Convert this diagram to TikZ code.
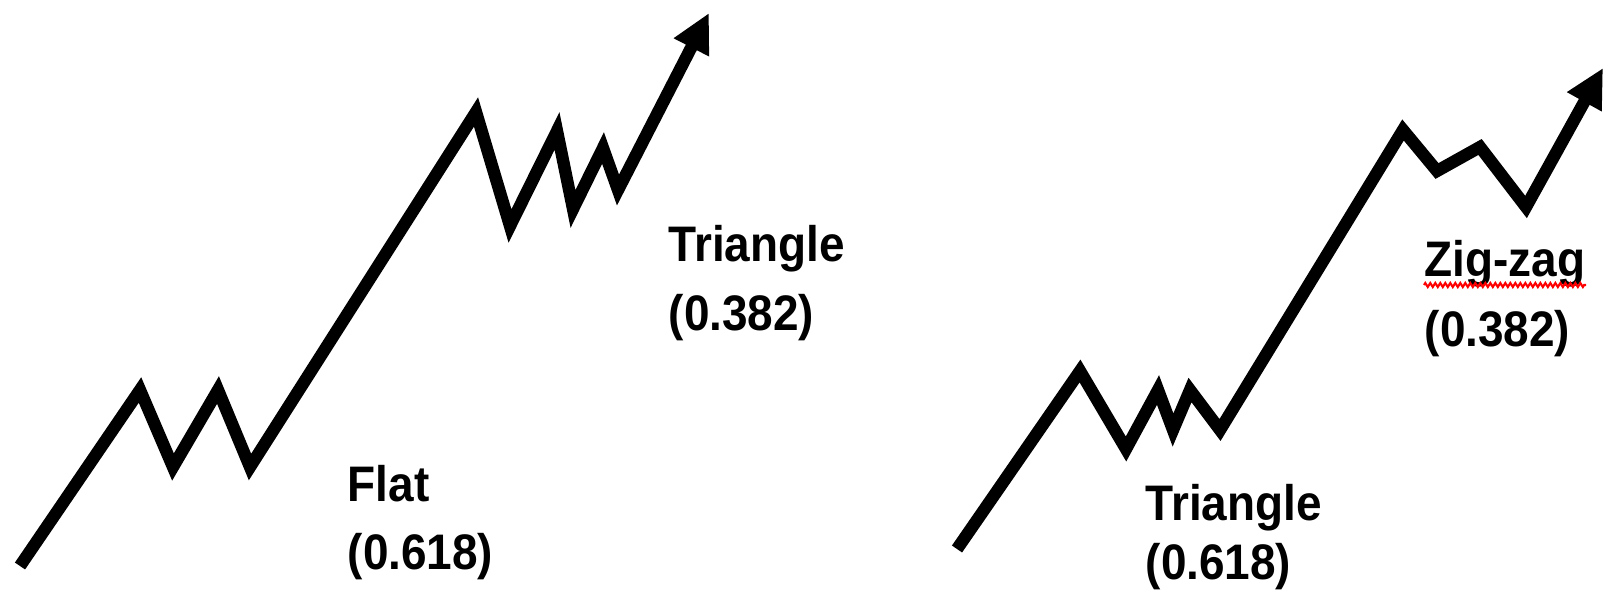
\documentclass[tikz,border=0pt]{standalone}
\usepackage{fontspec}
\setmainfont{Liberation Sans}
\newfontfamily\labelfont[FakeStretch=0.92]{Liberation Sans}
\usetikzlibrary{arrows.meta, decorations.pathmorphing}

\begin{document}
\begin{tikzpicture}[
  x=0.01cm, y=-0.01cm,
  >={Triangle[length=11pt, width=10.5pt]},
  wave/.style={->, draw=black, line width=3.5pt},
  fiblabel/.style={anchor=base west, inner sep=0pt,
                   font=\labelfont\bfseries\fontsize{14.2pt}{19.6pt}\selectfont},
  spell/.style={draw=red, line width=0.6pt, decorate,
                decoration={zigzag, segment length=0.05cm, amplitude=0.02cm}}
]
  \useasboundingbox (0,0) rectangle (1610,592);

  % flat then triangle
  \draw[wave] (20,566) -- (140,390) -- (173,467) -- (218,390) -- (250,467)
    -- (476,112) -- (510,226) -- (557,131) -- (573,209) -- (603,148)
    -- (618,190) -- (709,13);

  % triangle then zig-zag
  \draw[wave] (957,549) -- (1080,371) -- (1126,449) -- (1158,390) -- (1173,430)
    -- (1190,390) -- (1220,430) -- (1403,130) -- (1437,171) -- (1480,147)
    -- (1526,207) -- (1603,68);

  \node[fiblabel] (flat)     at (347,502) {Flat};
  \node[fiblabel] (flatval)  at (347,570) {(0.618)};
  \node[fiblabel] (triA)     at (668,262) {Triangle};
  \node[fiblabel] (triAval)  at (668,331) {(0.382)};
  \node[fiblabel] (triB)     at (1145,521) {Triangle};
  \node[fiblabel] (triBval)  at (1145,580) {(0.618)};
  \node[fiblabel] (zigzag)   at (1424,277) {Zig-zag};
  \node[fiblabel] (zigzagval) at (1424,347) {(0.382)};

  \draw[spell] ([yshift=-0.08cm]zigzag.base west) -- ([yshift=-0.08cm]zigzag.base east);
\end{tikzpicture}
\end{document}
